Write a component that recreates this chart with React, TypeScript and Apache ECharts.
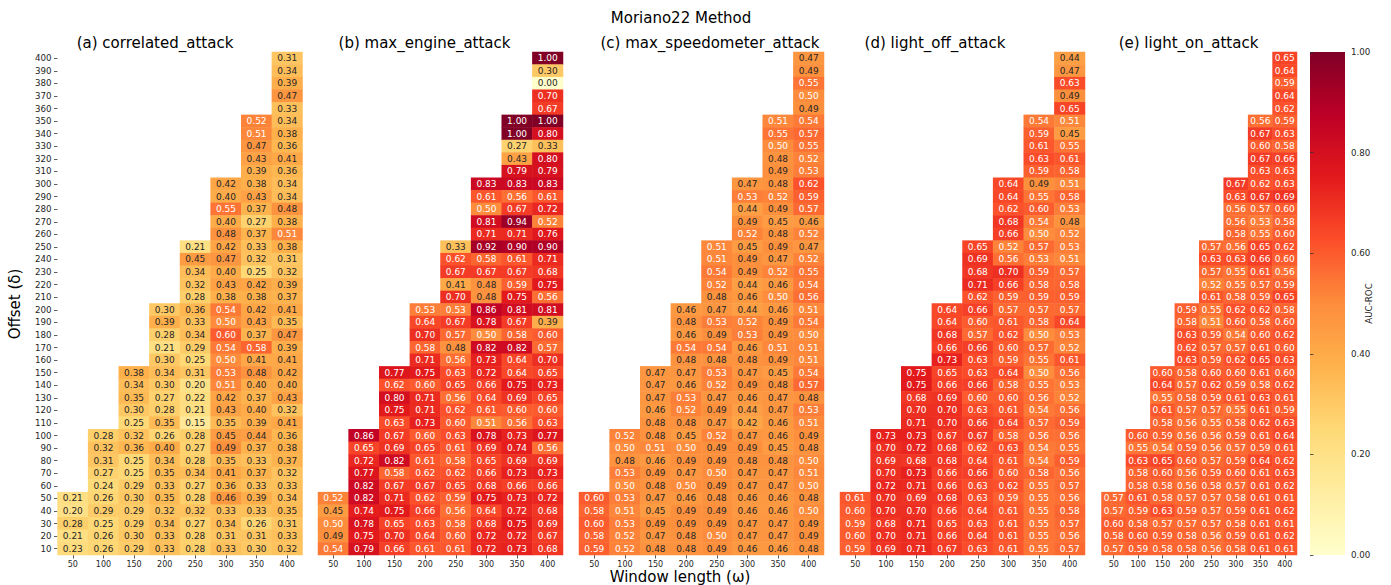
import React, { useEffect, useRef } from "react";
import * as echarts from "echarts";

const windows = ["50", "100", "150", "200", "250", "300", "350", "400"];
const offsets = [
  "10", "20", "30", "40", "50", "60", "70", "80", "90", "100",
  "110", "120", "130", "140", "150", "160", "170", "180", "190", "200",
  "210", "220", "230", "240", "250", "260", "270", "280", "290", "300",
  "310", "320", "330", "340", "350", "360", "370", "380", "390", "400",
];
const panelTitles = [
  "(a) correlated_attack",
  "(b) max_engine_attack",
  "(c) max_speedometer_attack",
  "(d) light_off_attack",
  "(e) light_on_attack",
];

// Rows from offset 400 (top) down to offset 10; each row lists the values of the
// largest windows present (right-aligned: last value = window 400).
const correlatedAttack: number[][] = [
  [0.31], [0.34], [0.39], [0.47], [0.33],
  [0.52, 0.34], [0.51, 0.38], [0.47, 0.36], [0.43, 0.41], [0.39, 0.36],
  [0.42, 0.38, 0.34], [0.40, 0.43, 0.34], [0.55, 0.37, 0.48], [0.40, 0.27, 0.38], [0.48, 0.37, 0.51],
  [0.21, 0.42, 0.33, 0.38], [0.45, 0.47, 0.32, 0.31], [0.34, 0.40, 0.25, 0.32], [0.32, 0.43, 0.42, 0.39], [0.28, 0.38, 0.38, 0.37],
  [0.30, 0.36, 0.54, 0.42, 0.41], [0.39, 0.33, 0.50, 0.43, 0.35], [0.28, 0.34, 0.60, 0.37, 0.47], [0.21, 0.29, 0.54, 0.58, 0.39], [0.30, 0.25, 0.50, 0.41, 0.41],
  [0.38, 0.34, 0.31, 0.53, 0.48, 0.42], [0.34, 0.30, 0.20, 0.51, 0.40, 0.40], [0.35, 0.27, 0.22, 0.42, 0.37, 0.43], [0.30, 0.28, 0.21, 0.43, 0.40, 0.32], [0.25, 0.35, 0.15, 0.35, 0.39, 0.41],
  [0.28, 0.32, 0.26, 0.28, 0.45, 0.44, 0.36], [0.32, 0.36, 0.40, 0.27, 0.49, 0.37, 0.38], [0.31, 0.25, 0.34, 0.28, 0.35, 0.33, 0.37], [0.27, 0.25, 0.35, 0.34, 0.41, 0.37, 0.32], [0.24, 0.29, 0.33, 0.27, 0.36, 0.33, 0.33],
  [0.21, 0.26, 0.30, 0.35, 0.28, 0.46, 0.39, 0.34], [0.20, 0.29, 0.29, 0.32, 0.32, 0.33, 0.33, 0.35], [0.28, 0.25, 0.29, 0.34, 0.27, 0.34, 0.26, 0.31], [0.21, 0.26, 0.30, 0.33, 0.28, 0.31, 0.31, 0.33], [0.23, 0.26, 0.29, 0.33, 0.28, 0.33, 0.30, 0.32],
];

const maxEngineAttack: number[][] = [
  [1.0], [0.30], [0.0], [0.70], [0.67],
  [1.0, 1.0], [1.0, 0.80], [0.27, 0.33], [0.43, 0.80], [0.79, 0.79],
  [0.83, 0.83, 0.83], [0.61, 0.56, 0.61], [0.50, 0.67, 0.72], [0.81, 0.94, 0.52], [0.71, 0.71, 0.76],
  [0.33, 0.92, 0.90, 0.90], [0.62, 0.58, 0.61, 0.71], [0.67, 0.67, 0.67, 0.68], [0.41, 0.48, 0.59, 0.75], [0.70, 0.48, 0.75, 0.56],
  [0.53, 0.53, 0.86, 0.81, 0.81], [0.64, 0.67, 0.78, 0.67, 0.39], [0.70, 0.57, 0.50, 0.58, 0.60], [0.58, 0.48, 0.82, 0.82, 0.57], [0.71, 0.56, 0.73, 0.64, 0.70],
  [0.77, 0.75, 0.63, 0.72, 0.64, 0.65], [0.62, 0.60, 0.65, 0.66, 0.75, 0.73], [0.80, 0.71, 0.56, 0.64, 0.69, 0.65], [0.75, 0.71, 0.62, 0.61, 0.60, 0.60], [0.63, 0.73, 0.60, 0.51, 0.56, 0.63],
  [0.86, 0.67, 0.60, 0.63, 0.78, 0.73, 0.77], [0.65, 0.69, 0.65, 0.61, 0.69, 0.74, 0.56], [0.72, 0.82, 0.61, 0.58, 0.65, 0.69, 0.69], [0.77, 0.58, 0.62, 0.62, 0.66, 0.73, 0.73], [0.82, 0.67, 0.67, 0.65, 0.68, 0.66, 0.66],
  [0.52, 0.82, 0.71, 0.62, 0.59, 0.75, 0.73, 0.72], [0.45, 0.74, 0.75, 0.66, 0.56, 0.64, 0.72, 0.68], [0.50, 0.78, 0.65, 0.63, 0.58, 0.68, 0.75, 0.69], [0.49, 0.75, 0.70, 0.64, 0.60, 0.72, 0.72, 0.67], [0.54, 0.79, 0.66, 0.61, 0.61, 0.72, 0.73, 0.68],
];

const maxSpeedometerAttack: number[][] = [
  [0.47], [0.49], [0.55], [0.50], [0.49],
  [0.51, 0.54], [0.55, 0.57], [0.50, 0.55], [0.48, 0.52], [0.49, 0.53],
  [0.47, 0.48, 0.62], [0.53, 0.52, 0.59], [0.44, 0.49, 0.57], [0.49, 0.45, 0.46], [0.52, 0.48, 0.52],
  [0.51, 0.45, 0.49, 0.47], [0.51, 0.49, 0.47, 0.52], [0.54, 0.49, 0.52, 0.55], [0.52, 0.44, 0.46, 0.54], [0.48, 0.46, 0.50, 0.56],
  [0.46, 0.47, 0.44, 0.46, 0.51], [0.48, 0.53, 0.52, 0.49, 0.54], [0.46, 0.49, 0.53, 0.49, 0.50], [0.54, 0.54, 0.46, 0.51, 0.51], [0.48, 0.48, 0.48, 0.49, 0.51],
  [0.47, 0.47, 0.53, 0.47, 0.45, 0.54], [0.47, 0.46, 0.52, 0.49, 0.48, 0.57], [0.47, 0.53, 0.47, 0.46, 0.47, 0.48], [0.46, 0.52, 0.49, 0.44, 0.47, 0.53], [0.48, 0.48, 0.47, 0.42, 0.46, 0.51],
  [0.52, 0.48, 0.45, 0.52, 0.47, 0.46, 0.49], [0.50, 0.51, 0.50, 0.49, 0.49, 0.45, 0.48], [0.48, 0.46, 0.49, 0.49, 0.48, 0.48, 0.50], [0.53, 0.49, 0.47, 0.50, 0.47, 0.47, 0.51], [0.50, 0.48, 0.50, 0.49, 0.47, 0.47, 0.50],
  [0.60, 0.53, 0.47, 0.46, 0.48, 0.46, 0.46, 0.48], [0.58, 0.51, 0.45, 0.49, 0.49, 0.46, 0.46, 0.50], [0.60, 0.53, 0.49, 0.49, 0.49, 0.47, 0.47, 0.49], [0.58, 0.52, 0.47, 0.48, 0.50, 0.47, 0.47, 0.49], [0.59, 0.52, 0.48, 0.48, 0.49, 0.46, 0.46, 0.48],
];

const lightOffAttack: number[][] = [
  [0.44], [0.47], [0.63], [0.49], [0.65],
  [0.54, 0.51], [0.59, 0.45], [0.61, 0.55], [0.63, 0.61], [0.59, 0.58],
  [0.64, 0.49, 0.51], [0.64, 0.55, 0.58], [0.62, 0.60, 0.53], [0.68, 0.54, 0.48], [0.66, 0.50, 0.52],
  [0.65, 0.52, 0.57, 0.53], [0.69, 0.56, 0.53, 0.51], [0.68, 0.70, 0.59, 0.57], [0.71, 0.66, 0.58, 0.58], [0.62, 0.59, 0.59, 0.59],
  [0.64, 0.66, 0.57, 0.57, 0.57], [0.64, 0.60, 0.61, 0.58, 0.64], [0.68, 0.57, 0.62, 0.50, 0.53], [0.66, 0.66, 0.60, 0.57, 0.52], [0.73, 0.63, 0.59, 0.55, 0.61],
  [0.75, 0.65, 0.63, 0.64, 0.50, 0.56], [0.75, 0.66, 0.66, 0.58, 0.55, 0.53], [0.68, 0.69, 0.60, 0.60, 0.56, 0.52], [0.70, 0.70, 0.63, 0.61, 0.54, 0.56], [0.71, 0.70, 0.66, 0.64, 0.57, 0.59],
  [0.73, 0.73, 0.67, 0.67, 0.58, 0.56, 0.56], [0.70, 0.72, 0.68, 0.62, 0.63, 0.54, 0.55], [0.69, 0.68, 0.68, 0.64, 0.61, 0.54, 0.59], [0.70, 0.73, 0.66, 0.66, 0.60, 0.58, 0.56], [0.72, 0.71, 0.66, 0.63, 0.62, 0.55, 0.57],
  [0.61, 0.70, 0.69, 0.68, 0.63, 0.59, 0.55, 0.56], [0.60, 0.70, 0.70, 0.66, 0.64, 0.61, 0.55, 0.58], [0.59, 0.68, 0.71, 0.65, 0.63, 0.61, 0.55, 0.57], [0.60, 0.70, 0.71, 0.66, 0.64, 0.61, 0.55, 0.56], [0.59, 0.69, 0.71, 0.67, 0.63, 0.61, 0.55, 0.57],
];

const lightOnAttack: number[][] = [
  [0.65], [0.64], [0.59], [0.64], [0.62],
  [0.56, 0.59], [0.67, 0.63], [0.60, 0.58], [0.67, 0.66], [0.63, 0.63],
  [0.67, 0.62, 0.63], [0.63, 0.67, 0.69], [0.56, 0.57, 0.60], [0.56, 0.53, 0.58], [0.58, 0.55, 0.60],
  [0.57, 0.56, 0.65, 0.62], [0.63, 0.63, 0.66, 0.60], [0.57, 0.55, 0.61, 0.56], [0.52, 0.55, 0.57, 0.59], [0.61, 0.58, 0.59, 0.65],
  [0.59, 0.55, 0.62, 0.62, 0.58], [0.58, 0.51, 0.60, 0.58, 0.60], [0.63, 0.59, 0.54, 0.60, 0.62], [0.62, 0.57, 0.57, 0.61, 0.60], [0.63, 0.59, 0.62, 0.65, 0.63],
  [0.60, 0.58, 0.60, 0.60, 0.61, 0.60], [0.64, 0.57, 0.62, 0.59, 0.58, 0.62], [0.55, 0.58, 0.59, 0.61, 0.63, 0.61], [0.61, 0.57, 0.57, 0.55, 0.61, 0.59], [0.58, 0.56, 0.55, 0.58, 0.62, 0.63],
  [0.60, 0.59, 0.56, 0.56, 0.59, 0.61, 0.64], [0.55, 0.54, 0.59, 0.56, 0.57, 0.59, 0.61], [0.63, 0.65, 0.60, 0.57, 0.59, 0.64, 0.62], [0.58, 0.60, 0.56, 0.59, 0.60, 0.61, 0.63], [0.58, 0.58, 0.56, 0.58, 0.57, 0.61, 0.62],
  [0.57, 0.61, 0.58, 0.57, 0.57, 0.58, 0.61, 0.61], [0.57, 0.59, 0.63, 0.59, 0.57, 0.59, 0.61, 0.62], [0.60, 0.58, 0.57, 0.57, 0.57, 0.58, 0.61, 0.61], [0.58, 0.60, 0.59, 0.58, 0.56, 0.59, 0.61, 0.62], [0.57, 0.59, 0.58, 0.58, 0.56, 0.58, 0.61, 0.61],
];

const panels = [correlatedAttack, maxEngineAttack, maxSpeedometerAttack, lightOffAttack, lightOnAttack];

const YLORRD = ["#ffffcc", "#ffeda0", "#fed976", "#feb24c", "#fd8d3c", "#fc4e2a", "#e31a1c", "#bd0026", "#800026"];
const FONT = "DejaVu Sans";
const GRID_TOP = 52;
const GRID_H = 503;
const gridLefts = [57.5, 318, 579, 840, 1101.5];
const gridWidths = [245, 245, 245, 245, 195.5];
const titleCenters = [155, 424.5, 710, 935, 1188.5];

function buildData(rows: number[][]) {
  const out: any[] = [];
  rows.forEach((vals, r) => {
    const yi = offsets.length - 1 - r;
    const n = vals.length;
    vals.forEach((v, k) => {
      const xi = windows.length - n + k;
      out.push({
        value: [xi, yi, v],
        label: { color: v >= 0.495 ? "#ffffff" : "#262626" },
      });
    });
  });
  return out;
}

export default function App() {
  const ref = useRef<HTMLDivElement>(null);
  useEffect(() => {
    if (!ref.current) return;
    const chart = echarts.init(ref.current, null, { renderer: "svg" });

    const grids: any[] = gridLefts.map((l, i) => ({
      left: l,
      top: GRID_TOP,
      width: gridWidths[i],
      height: GRID_H,
      containLabel: false,
    }));
    grids.push({ left: 1310, top: GRID_TOP, width: 35, height: GRID_H });

    const xAxes: any[] = gridLefts.map((_, i) => ({
      type: "category",
      gridIndex: i,
      data: windows,
      position: "bottom",
      axisLine: { show: false },
      axisTick: { show: true, alignWithLabel: true, length: 3.5, lineStyle: { color: "#333", width: 0.8 } },
      axisLabel: { show: true, fontSize: 8, color: "#262626", margin: 5, fontFamily: FONT, interval: 0 },
      splitLine: { show: false },
    }));
    xAxes.push({ type: "value", gridIndex: 5, show: false, min: 0, max: 1 });

    const yAxes: any[] = gridLefts.map((_, i) => ({
      type: "category",
      gridIndex: i,
      data: offsets,
      axisLine: { show: false },
      axisTick: { show: i === 0, alignWithLabel: true, length: 3.5, lineStyle: { color: "#333", width: 0.8 } },
      axisLabel: { show: i === 0, fontSize: 8.7, color: "#262626", margin: 6, fontFamily: FONT, interval: 0 },
      splitLine: { show: false },
    }));
    yAxes.push({
      type: "value",
      gridIndex: 5,
      position: "right",
      min: 0,
      max: 1,
      interval: 0.2,
      axisLine: { show: false },
      axisTick: { show: true, length: 3.5, lineStyle: { color: "#333", width: 0.8 } },
      axisLabel: {
        fontSize: 8.7,
        color: "#262626",
        margin: 6,
        fontFamily: FONT,
        formatter: (v: number) => v.toFixed(2),
      },
      splitLine: { show: false },
      name: "AUC-ROC",
      nameLocation: "middle",
      nameRotate: 90,
      nameGap: 19,
      nameMoveOverlap: false,
      nameTextStyle: { fontSize: 8.7, color: "#262626", fontFamily: FONT },
    });

    const series: any[] = panels.map((rows, i) => ({
      type: "heatmap",
      xAxisIndex: i,
      yAxisIndex: i,
      data: buildData(rows),
      itemStyle: { borderWidth: 0 },
      label: {
        show: true,
        fontSize: 9,
        fontFamily: FONT,
        formatter: (p: any) => Number(p.value[2]).toFixed(2),
      },
      emphasis: { disabled: true },
    }));

    const graphic: any[] = [
      {
        type: "rect",
        shape: { x: 1310, y: GRID_TOP, width: 35, height: GRID_H },
        style: {
          fill: new echarts.graphic.LinearGradient(
            0, 0, 0, 1,
            YLORRD.slice().reverse().map((c, k) => ({ offset: k / (YLORRD.length - 1), color: c }))
          ),
        },
        silent: true,
      },
      {
        type: "text",
        x: 681,
        y: 18,
        style: { text: "Moriano22 Method", font: `15px "${FONT}"`, fill: "#000", align: "center", verticalAlign: "middle" },
      },
      {
        type: "text",
        x: 680,
        y: 577,
        style: { text: "Window length (ω)", font: `15px "${FONT}"`, fill: "#000", align: "center", verticalAlign: "middle" },
      },
      {
        type: "text",
        x: 15,
        y: 304,
        rotation: Math.PI / 2,
        style: { text: "Offset (δ)", font: `15px "${FONT}"`, fill: "#000", align: "center", verticalAlign: "middle" },
      },
      ...panelTitles.map((t, i) => ({
        type: "text",
        x: titleCenters[i],
        y: 43,
        style: { text: t, font: `15px "${FONT}"`, fill: "#000", align: "center", verticalAlign: "middle" },
      })),
    ];

    chart.setOption({
      animation: false,
      backgroundColor: "#ffffff",
      textStyle: { fontFamily: FONT },
      grid: grids,
      xAxis: xAxes,
      yAxis: yAxes,
      visualMap: {
        show: false,
        type: "continuous",
        min: 0,
        max: 1,
        dimension: 2,
        seriesIndex: [0, 1, 2, 3, 4],
        inRange: { color: YLORRD },
      },
      series,
      graphic,
    });
    return () => chart.dispose();
  }, []);

  return (
    <div
      ref={ref}
      style={{ position: "absolute", left: 0, top: 0, width: 1391, height: 585, background: "#fff" }}
    />
  );
}
